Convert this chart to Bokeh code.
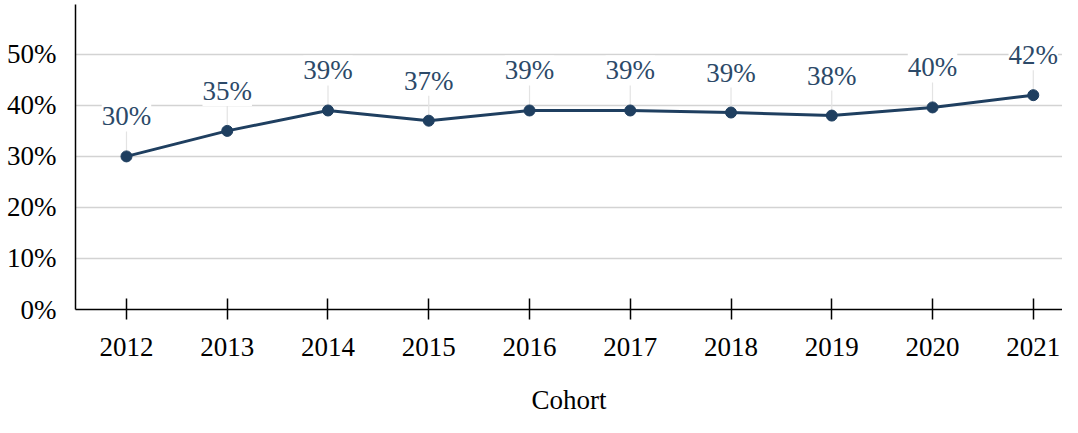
from bokeh.plotting import figure
from bokeh.models import Range1d, FixedTicker, NumeralTickFormatter
from bokeh.core.properties import value
from bokeh.embed import file_html
from bokeh.resources import INLINE
import numpy as np

years = [2012, 2013, 2014, 2015, 2016, 2017, 2018, 2019, 2020, 2021]
rates = [0.30, 0.35, 0.39, 0.37, 0.39, 0.39, 0.386, 0.38, 0.396, 0.42]
labels = ["30%", "35%", "39%", "37%", "39%", "39%", "39%", "38%", "40%", "42%"]
y_ticks = [0, 0.1, 0.2, 0.3, 0.4, 0.5]

NAVY = "#1f3f60"
FONT = "Liberation Serif"

p = figure(width=1062, height=417, output_backend="svg", toolbar_location=None,
           x_range=Range1d(2011.494, 2021.29), y_range=Range1d(0, 0.5977),
           min_border_left=75, min_border_top=4, min_border_right=0, min_border_bottom=107)
p.outline_line_color = None
p.background_fill_color = "white"

p.xgrid.visible = False
p.ygrid.ticker = FixedTicker(ticks=y_ticks)
p.ygrid.grid_line_color = "#d3d3d3"
p.ygrid.grid_line_width = 1.5

p.yaxis.ticker = FixedTicker(ticks=y_ticks)
p.yaxis.formatter = NumeralTickFormatter(format="0%")
p.yaxis.major_tick_line_color = None
p.yaxis.minor_tick_line_color = None
p.yaxis.axis_line_color = "black"
p.yaxis.axis_line_width = 1.5
p.yaxis.major_label_standoff = 13
p.yaxis.major_label_text_font = FONT
p.yaxis.major_label_text_font_size = "27px"
p.yaxis.major_label_text_color = "black"

p.xaxis.ticker = FixedTicker(ticks=years)
p.xaxis.minor_tick_line_color = None
p.xaxis.axis_line_color = "black"
p.xaxis.axis_line_width = 1.5
p.xaxis.major_tick_line_color = "black"
p.xaxis.major_tick_line_width = 1.5
p.xaxis.major_tick_in = 11
p.xaxis.major_tick_out = 10
p.xaxis.major_label_standoff = 18
p.xaxis.major_label_text_font = FONT
p.xaxis.major_label_text_font_size = "27px"
p.xaxis.major_label_text_color = "black"
p.xaxis.axis_label = "Cohort"
p.xaxis.axis_label_text_font = FONT
p.xaxis.axis_label_text_font_size = "27px"
p.xaxis.axis_label_text_font_style = "normal"
p.xaxis.axis_label_text_color = "black"
p.xaxis.axis_label_standoff = 26

p.ray(x=years, y=rates, length=40, angle=np.pi / 2, length_units="screen",
      line_color="#e3e3e3", line_width=1.2)
p.text(x=years, y=rates, text=labels, y_offset=-40, text_align="center",
       text_baseline="alphabetic", text_font=value(FONT), text_font_size="27px",
       text_color="#2c4968", background_fill_color="white")
p.line(years, rates, line_color=NAVY, line_width=3)
p.scatter(years, rates, size=11, fill_color=NAVY, line_color=NAVY)

open("out.html", "w").write(file_html(p, INLINE))
